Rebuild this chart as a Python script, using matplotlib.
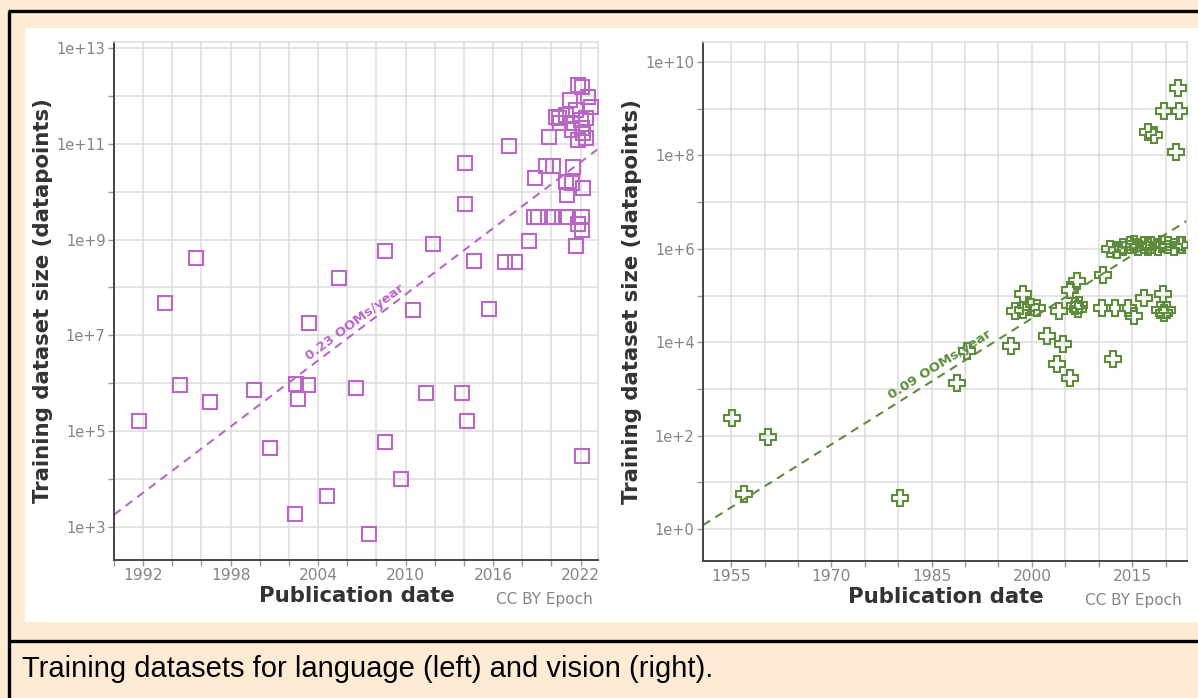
import numpy as np
import matplotlib
matplotlib.use("Agg")
import matplotlib.pyplot as plt
from matplotlib.patches import Rectangle
from matplotlib.lines import Line2D

plt.rcParams["font.family"] = ["DejaVu Sans"]

# ---------------- data ----------------
# Language models: publication year and training dataset size
lang_year = [1991.7, 1993.5, 1994.5, 1995.6, 1996.6, 1999.6, 2000.7, 2002.4, 2002.5, 2002.6,
             2003.3, 2003.4, 2004.6, 2005.45, 2006.6, 2007.5, 2008.6, 2008.6, 2009.7, 2010.5,
             2011.4, 2011.9, 2013.9, 2014.05, 2014.05, 2014.2, 2014.7, 2015.7, 2016.8, 2017.1,
             2017.5, 2018.5, 2018.9, 2018.8, 2019.1, 2019.8, 2020.2, 2021.0, 2022.1, 2019.6,
             2020.1, 2019.85, 2020.3, 2020.5, 2021.0, 2021.3, 2021.4, 2020.6, 2021.7, 2021.8,
             2022.1, 2022.05, 2022.4, 2022.5, 2022.7, 2021.8, 2022.4, 2021.45, 2022.1, 2022.2,
             2021.5, 2021.0, 2021.45, 2021.1, 2022.2, 2021.8, 2022.1, 2021.7, 2022.1]
lang_size = [1.6e5, 4.8e7, 9.1e5, 4.2e8, 4.1e5, 7.2e5, 4.5e4, 1.9e3, 9.8e5, 4.7e5,
             9.1e5, 1.8e7, 4.5e3, 1.6e8, 7.9e5, 7.1e2, 5.9e4, 5.8e8, 1.0e4, 3.4e7,
             6.3e5, 8.1e8, 6.3e5, 4.0e10, 5.5e9, 1.6e5, 3.5e8, 3.5e7, 3.4e8, 8.9e10,
             3.4e8, 9.3e8, 1.9e10, 2.95e9, 2.95e9, 2.95e9, 2.95e9, 2.95e9, 2.95e9, 3.5e10,
             3.5e10, 1.4e11, 3.6e11, 3.5e11, 4.0e11, 8.1e11, 2.7e11, 2.7e11, 5.0e11, 1.7e12,
             1.5e12, 3.2e11, 3.5e11, 9.5e11, 5.9e11, 1.2e11, 1.3e11, 1.9e11, 2.1e11, 1.7e11,
             3.2e10, 1.6e10, 1.5e10, 8.5e9, 1.2e10, 2.1e9, 1.6e9, 7.4e8, 3.0e4]

# Vision models: publication year and training dataset size
vis_year = [1955.1, 1957.0, 1960.5, 1980.3, 1988.8, 1990.3, 1996.8, 1997.5, 1998.7, 1998.7,
            1999.8, 2000.7, 2002.3, 2003.8, 2004.0, 2004.7, 2005.7, 2005.7, 2006.8, 2006.5,
            2006.9, 2007.0, 2010.6, 2010.5, 2012.2, 2012.5, 2014.3, 2015.2, 2016.8, 2019.6,
            2019.2, 2020.2, 2019.7,
            2011.7, 2012.8, 2013.7, 2014.7, 2015.2, 2015.8, 2016.7, 2017.3, 2017.8, 2018.8,
            2019.5, 2020.3, 2021.2, 2022.1, 2022.5,
            2017.3, 2018.2, 2019.7, 2021.5, 2021.9, 2022.0]
vis_size = [2.4e2, 5.6e0, 9.3e1, 4.6e0, 1.35e3, 6.5e3, 8.3e3, 4.7e4, 1.1e5, 4.9e4,
            5.6e4, 5.4e4, 1.35e4, 3.4e3, 4.7e4, 9.1e3, 1.7e3, 1.3e5, 2.0e5, 6.0e4,
            5.2e4, 6.3e4, 2.75e5, 5.4e4, 4.4e3, 5.4e4, 5.4e4, 3.6e4, 8.9e4, 1.1e5,
            4.9e4, 4.9e4, 4.2e4,
            1.0e6, 9.5e5, 1.1e6, 1.2e6, 1.3e6, 1.1e6, 1.2e6, 1.1e6, 1.2e6, 1.1e6,
            1.3e6, 1.2e6, 1.1e6, 1.2e6, 1.2e6,
            3.2e8, 2.75e8, 8.9e8, 1.2e8, 2.75e9, 8.9e8]

# Fitted log-linear trends (log10 size = intercept + slope * (year - ref))
lang_trend_slope, lang_trend_ref, lang_trend_intercept = 0.23, 2002.5, 6.13
vis_trend_slope, vis_trend_ref, vis_trend_intercept = 0.09, 1986.75, 3.32
lang_trend_label = "0.23 OOMs/year"
vis_trend_label = "0.09 OOMs/year"

# Axis ticks and labels
lang_xticks = list(range(1990, 2024, 2))
lang_xticklabels = ["", "1992", "", "", "1998", "", "", "2004", "", "", "2010", "", "",
                    "2016", "", "", "2022"]
lang_yticks = [1e3, 1e4, 1e5, 1e6, 1e7, 1e8, 1e9, 1e10, 1e11, 1e12, 1e13]
lang_yticklabels = ["1e+3", "", "1e+5", "", "1e+7", "", "1e+9", "", "1e+11", "", "1e+13"]

vis_xticks = list(range(1955, 2021, 5))
vis_xticklabels = ["1955", "", "", "1970", "", "", "1985", "", "", "2000", "", "", "2015", ""]
vis_yticks = [1e0, 1e1, 1e2, 1e3, 1e4, 1e5, 1e6, 1e7, 1e8, 1e9, 1e10]
vis_yticklabels = ["1e+0", "", "1e+2", "", "1e+4", "", "1e+6", "", "1e+8", "", "1e+10"]

x_label = "Publication date"
y_label = "Training dataset size (datapoints)"
credit = "CC BY Epoch"
caption = "Training datasets for language (left) and vision (right)."

# ---------------- styling ----------------
PEACH = "#fdebd3"
PURPLE = "#b967c4"
GREEN = "#5e8c3c"
GRID = "#dddddd"
TICK_TXT = "#858585"
LABEL_TXT = "#333333"
SPINE = "#444444"

W, H = 1198, 698
fig = plt.figure(figsize=(W / 100, H / 100), dpi=100, facecolor=PEACH)


def fx(px):
    return px / W


def fy(py):
    return 1 - py / H


# white chart panel
fig.add_artist(Rectangle((fx(25), fy(622)), fx(W) - fx(25), fy(28) - fy(622),
                         transform=fig.transFigure, facecolor="white", edgecolor="none",
                         zorder=0))
# black frame lines
for xs, ys in [([8, W], [11, 11]), ([8.5, 8.5], [11, H]), ([8, W], [641, 641])]:
    fig.add_artist(Line2D([fx(x) for x in xs], [fy(y) for y in ys], color="black",
                          lw=2.4, transform=fig.transFigure, zorder=5,
                          solid_capstyle="butt"))

fig.text(fx(22), fy(669), caption, fontsize=21, family="Liberation Sans",
         color="black", va="center", ha="left")


def style_axes(ax, xticks, xticklabels, yticks, yticklabels):
    ax.set_yscale("log")
    ax.set_xticks(xticks)
    ax.set_xticklabels(xticklabels)
    ax.set_yticks(yticks)
    ax.set_yticklabels(yticklabels)
    ax.yaxis.set_minor_locator(matplotlib.ticker.NullLocator())
    ax.grid(True, color=GRID, lw=1.1, zorder=0)
    ax.set_axisbelow(True)
    for side in ("left", "bottom"):
        ax.spines[side].set_color(SPINE)
        ax.spines[side].set_linewidth(1.4)
    for side in ("top", "right"):
        ax.spines[side].set_color(GRID)
        ax.spines[side].set_linewidth(1.1)
    ax.tick_params(axis="both", which="major", length=4, width=1, color="#999999",
                   labelcolor=TICK_TXT, pad=2)
    ax.tick_params(axis="x", labelsize=11.2)
    ax.tick_params(axis="y", labelsize=10.5)
    ax.set_xlabel(x_label, fontsize=15.3, fontweight="bold", color=LABEL_TXT)
    ax.set_ylabel(y_label, fontsize=15.3, fontweight="bold", color=LABEL_TXT)
    ax.xaxis.set_label_coords(0.502, -0.05)
    ax.yaxis.set_label_coords(-0.125, 0.5)
    ax.text(0.889, -0.077, credit, transform=ax.transAxes, fontsize=11,
            color=TICK_TXT, ha="center", va="center")


# ---------------- language panel ----------------
ax1 = fig.add_axes([fx(114), fy(560), fx(598) - fx(114), fy(42) - fy(560)])
ax1.set_facecolor("white")
ax1.set_xlim(1990.65, 2023.2)
ax1.set_ylim(10 ** 2.31, 10 ** 13.125)
style_axes(ax1, lang_xticks, lang_xticklabels, lang_yticks, lang_yticklabels)
ax1.plot(lang_year, lang_size, ls="none", marker="s", markersize=10.2,
         markerfacecolor="none", markeredgecolor=PURPLE, markeredgewidth=1.5, zorder=3)
tx = np.array(ax1.get_xlim())
ax1.plot(tx, 10 ** (lang_trend_intercept + lang_trend_slope * (tx - lang_trend_ref)),
         color=PURPLE, ls=(0, (4, 3)), lw=1.5, zorder=2)
ax1.text(2006.5, 10 ** 7.28, lang_trend_label, color=PURPLE, fontsize=9.5,
         fontweight="bold", rotation=36.5, rotation_mode="anchor", ha="center",
         va="center", zorder=4)

# ---------------- vision panel ----------------
ax2 = fig.add_axes([fx(703), fy(561), fx(1187) - fx(703), fy(42) - fy(561)])
ax2.set_facecolor("white")
ax2.set_xlim(1950.8, 2023.2)
ax2.set_ylim(10 ** -0.685, 10 ** 10.43)
style_axes(ax2, vis_xticks, vis_xticklabels, vis_yticks, vis_yticklabels)
ax2.plot(vis_year, vis_size, ls="none", marker="P", markersize=11.5,
         markerfacecolor="none", markeredgecolor=GREEN, markeredgewidth=1.5, zorder=3)
tx = np.array(ax2.get_xlim())
ax2.plot(tx, 10 ** (vis_trend_intercept + vis_trend_slope * (tx - vis_trend_ref)),
         color=GREEN, ls=(0, (4, 3)), lw=1.5, zorder=2)
ax2.text(1986.3, 10 ** 3.51, vis_trend_label, color=GREEN, fontsize=9.5,
         fontweight="bold", rotation=32.2, rotation_mode="anchor", ha="center",
         va="center", zorder=4)

fig.savefig("out.png", dpi=100, facecolor=PEACH)
